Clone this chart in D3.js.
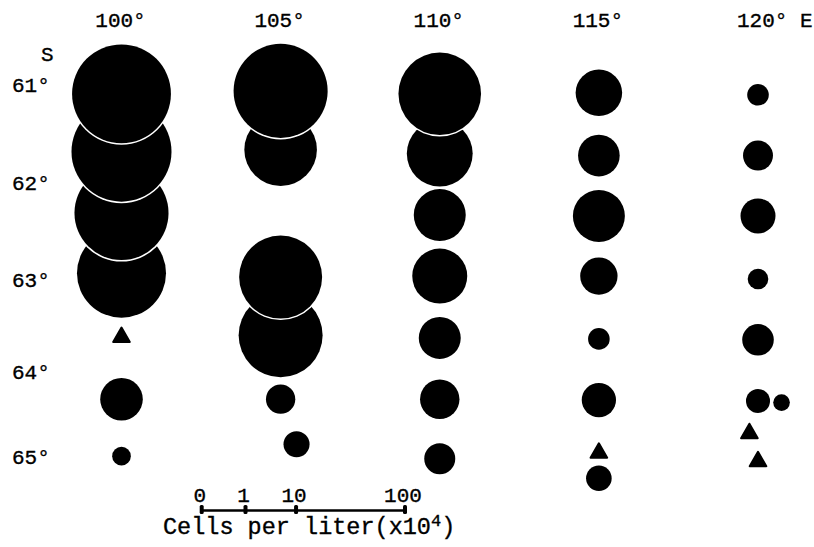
<!DOCTYPE html>
<html><head><meta charset="utf-8">
<script src="https://cdn.jsdelivr.net/npm/d3@7"></script>
<style>
body{margin:0;background:#fff}
svg{display:block}
text{font-family:"Liberation Mono","Courier New",monospace;fill:#000;stroke:#000;stroke-width:0.35px}
</style>
</head><body>
<script>
// ---- data ----
const longitudes = [100, 105, 110, 115, 120];
const lonLabels = ["100°", "105°", "110°", "115°", "120° E"];
const latitudes = [61, 62, 63, 64, 65];
const latLabels = ["61°", "62°", "63°", "64°", "65°"];
const legendTicks = [0, 1, 10, 100];
const legendTickLabels = ["0", "1", "10", "100"];

// circle samples: longitude, latitude (°S), cells per liter (x10^4)
const circleLon = [100,100,100,100,100,100,
                   105,105,105,105,105,105.5,
                   110,110,110,110,110,110,110,
                   115,115,115,115,115,115,115,
                   120,120,120,120,120,120,120.74];
const circleLat = [61.09,61.68,62.31,62.93,64.32,64.99,
                   61.06,61.66,62.97,63.60,64.32,64.85,
                   61.09,61.70,62.33,62.96,63.63,64.32,65.02,
                   61.08,61.72,62.34,62.96,63.64,64.33,65.25,
                   61.10,61.72,62.34,62.99,63.65,64.34,64.36];
const circleCells = [11.5,11.9,9.9,8.4,0.92,0.077,
                     9.9,4.55,6.8,7.05,0.30,0.21,
                     6.7,3.4,1.67,1.98,0.88,0.73,0.355,
                     1.2,0.86,1.67,0.62,0.12,0.48,0.2,
                     0.12,0.32,0.51,0.104,0.375,0.165,0.055];
// triangle samples (present, not counted)
const triangleLon = [100, 115, 119.73, 120];
const triangleLat = [63.61, 64.94, 64.71, 65.04];

// ---- chart ----
const W = 814, H = 547;
const svg = d3.select("body").append("svg").attr("width", W).attr("height", H);

const x = d3.scaleLinear().domain([100, 120]).range([121.5, 758]);
const y = d3.scaleLinear().domain(latitudes).range([85, 183, 280, 372, 457]);
const legendScale = d3.scalePow().exponent(1/3).domain([0, 100]).range([201.7, 405]);
const r = d3.scalePow().exponent(1/3).domain([0, 100]).range([0, (405 - 201.7) / 2]);

// longitude labels
svg.append("g").selectAll("text").data(longitudes).join("text")
  .attr("x", (d, i) => i === 4 ? x(d) - 21 : x(d) - 1)
  .attr("y", 27)
  .attr("text-anchor", (d, i) => i === 4 ? "start" : "middle")
  .style("font-size", "21px")
  .text((d, i) => lonLabels[i]);

// latitude labels
svg.append("text").attr("x", 41).attr("y", 61).style("font-size", "21px").text("S");
svg.append("g").selectAll("text").data(latitudes).join("text")
  .attr("x", 12).attr("y", d => y(d)).attr("dy", "0.35em")
  .style("font-size", "21px")
  .text((d, i) => latLabels[i]);

// circles, southern first so northern ones overlap with a white rim
const pts = circleLon.map((lon, i) => ({lon, lat: circleLat[i], v: circleCells[i]}))
  .sort((a, b) => b.lat - a.lat);
const cg = svg.append("g");
pts.forEach(p => {
  cg.append("circle").attr("cx", x(p.lon)).attr("cy", y(p.lat)).attr("r", r(p.v) + 1.5).attr("fill", "#fff");
  cg.append("circle").attr("cx", x(p.lon)).attr("cy", y(p.lat)).attr("r", r(p.v)).attr("fill", "#000");
});

// triangles
const tri = d3.symbol().type(d3.symbolTriangle).size(120);
svg.append("g").selectAll("path").data(triangleLon).join("path")
  .attr("transform", (d, i) => `translate(${x(d)},${y(triangleLat[i]) + 1})`)
  .attr("d", tri)
  .attr("fill", "#000").attr("stroke", "#000").attr("stroke-width", 2).attr("stroke-linejoin", "round");

// legend
const lg = svg.append("g");
lg.append("line").attr("x1", legendScale(0)).attr("x2", legendScale(100))
  .attr("y1", 510.5).attr("y2", 510.5).attr("stroke", "#000").attr("stroke-width", 2.5);
lg.selectAll("rect").data(legendTicks).join("rect")
  .attr("x", d => legendScale(d) - 2).attr("y", 505).attr("width", 4).attr("height", 9)
  .attr("rx", 1.5).attr("fill", "#000");
lg.selectAll("text.tl").data(legendTicks).join("text").attr("class", "tl")
  .attr("x", d => legendScale(d) - 2).attr("y", 501.5)
  .attr("text-anchor", "middle").style("font-size", "21px")
  .text((d, i) => legendTickLabels[i]);
const title = lg.append("text").attr("x", 163).attr("y", 534).style("font-size", "23.5px");
title.append("tspan").text("Cells per liter(x10");
title.append("tspan").attr("dy", -8).style("font-size", "17px").text("4");
title.append("tspan").attr("dy", 8).text(")");
</script>
</body></html>
